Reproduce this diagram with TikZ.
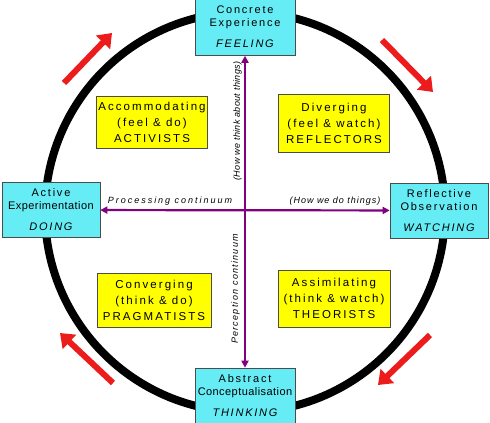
\documentclass[tikz,border=0pt]{standalone}
\usepackage{fontspec}
\setmainfont{Liberation Sans}
\newfontfamily\stagefont[LetterSpace=16]{Liberation Sans}
\newfontfamily\tightfont[LetterSpace=4]{Liberation Sans}
\newfontfamily\stylefont[LetterSpace=18]{Liberation Sans}
\newfontfamily\notefont[LetterSpace=4]{Liberation Sans}
\usetikzlibrary{arrows.meta,positioning}
\definecolor{stagecyan}{RGB}{102,236,245}
\definecolor{styleyellow}{RGB}{255,255,0}
\definecolor{axispurple}{RGB}{128,0,128}
\definecolor{flowred}{RGB}{236,28,28}

\begin{document}
\begin{tikzpicture}[x=1pt, y=-1pt,
    stagebox/.style={rectangle, draw=black!70, fill=stagecyan, line width=0.6pt,
        minimum width=100pt, minimum height=55pt, inner sep=1pt, align=center,
        font=\stagefont\fontsize{11}{13}\selectfont},
    stylebox/.style={rectangle, draw=black!70, fill=styleyellow, line width=0.6pt,
        minimum width=111pt, minimum height=55pt, inner sep=1pt, align=center,
        font=\stylefont\fontsize{11.5}{16}\selectfont},
    note/.style={font=\notefont\itshape\fontsize{9}{10}\selectfont, inner sep=1pt},
    axis/.style={{Triangle[length=7pt, width=7pt]}-{Triangle[length=7pt, width=7pt]},
        line width=2.2pt, axispurple},
    flow/.style={-{Triangle[length=13pt, width=19pt]}, line width=6pt, flowred},
    ring/.style={line width=8pt, black}
]
    \useasboundingbox (0,0) rectangle (490,423);

    % cycle ring
    \draw[ring] (245,212) circle[radius=200];

    % learning stages
    \node[stagebox, minimum height=57pt] (concrete) at (245,27) {Concrete\\Experience\\[8pt]\itshape FEELING};
    \node[stagebox, minimum width=98pt] (active) at (51,210) {Active\\{\tightfont Experimentation}\\[8pt]\itshape DOING};
    \node[stagebox, minimum width=98pt] (reflective) at (439,210.5) {Reflective\\Observation\\[8pt]\itshape WATCHING};
    \node[stagebox] (abstract) at (245,395.5) {Abstract\\{\tightfont Conceptualisation}\\[8pt]\itshape THINKING};

    % learning styles
    \node[stylebox, minimum height=52pt] (accommodating) at (152,122) {Accommodating\\(feel \& do)\\ACTIVISTS};
    \node[stylebox, minimum height=58pt] (diverging) at (334,123.5) {Diverging\\(feel \& watch)\\REFLECTORS};
    \node[stylebox, minimum width=114pt, minimum height=54pt] (converging) at (154,300) {Converging\\(think \& do)\\PRAGMATISTS};
    \node[stylebox, minimum width=112pt, minimum height=57pt] (assimilating) at (334,298.5) {Assimilating\\(think \& watch)\\THEORISTS};

    % continua
    \draw[axis] (concrete) -- (abstract);
    \draw[axis] (active) -- (reflective);

    \node[note] (processing) at (170,201) {\addfontfeature{LetterSpace=22}Processing continuum};
    \node[note] (howdo) at (335,201) {\addfontfeature{LetterSpace=11}(How we do things)};
    \node[note, rotate=90] (howthink) at (237.5,121) {(How we think about things)};
    \node[note, rotate=90] (perception) at (235.5,289) {\addfontfeature{LetterSpace=14}Perception continuum};

    % direction of the cycle
    \coordinate (tlfrom) at (64,83);   \coordinate (tlto) at (112,33);
    \coordinate (trfrom) at (382,40);  \coordinate (trto) at (433,92);
    \coordinate (brfrom) at (430,335); \coordinate (brto) at (378,385);
    \coordinate (blfrom) at (113,383); \coordinate (blto) at (60,333);
    \draw[flow] (tlfrom) -- (tlto);
    \draw[flow] (trfrom) -- (trto);
    \draw[flow] (brfrom) -- (brto);
    \draw[flow] (blfrom) -- (blto);
\end{tikzpicture}
\end{document}
